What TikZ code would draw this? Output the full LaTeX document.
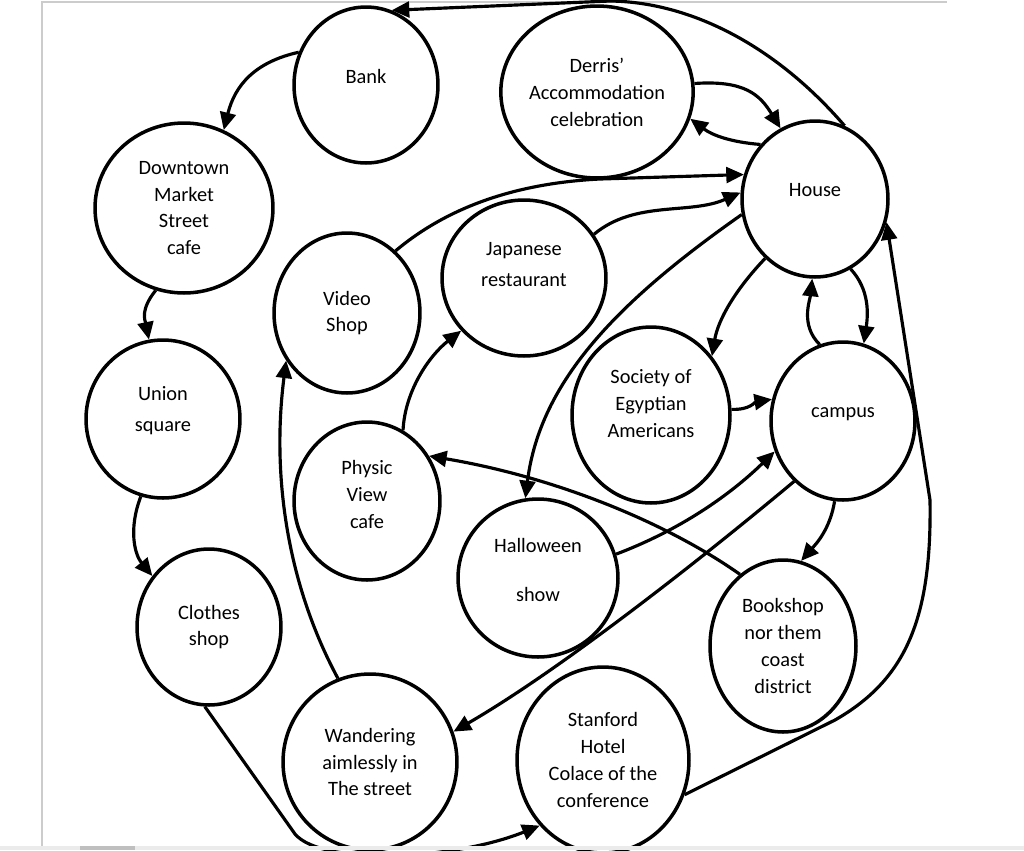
\documentclass[tikz,border=0pt]{standalone}
\usepackage{fontspec}
\setmainfont{Carlito}
\usetikzlibrary{shapes.geometric, arrows.meta}
\tikzstyle{place} = [ellipse, draw=black, line width=2pt, inner sep=0pt, align=center,
font=\fontsize{11.6}{15.3}\selectfont]
\tikzstyle{link} = [->, >=tri, line width=1.8pt]
\tikzset{tri/.tip={Triangle[length=10pt, width=9pt]}}

\begin{document}
\begin{tikzpicture}[x=0.02cm, y=-0.02cm]
    \useasboundingbox (0,0) rectangle (1024,850);
    % page frame
    \draw[black!20, line width=0.8pt] (42,846) -- (42,2) -- (947,2);

    \node(bank)[place, minimum width=2.88cm, minimum height=3.12cm] at (366,85) {Bank\\[-5pt]};
    \node(derris)[place, minimum width=3.84cm, minimum height=3.44cm] at (597,92) {Derris'\\Accommodation\\celebration};
    \node(downtown)[place, minimum width=3.56cm, minimum height=3.40cm] at (184,208) {Downtown\\Market\\Street\\cafe};
    \node(house)[place, minimum width=2.92cm, minimum height=3.12cm] at (815,199) {House\\[-5pt]};
    \node(video)[place, minimum width=2.92cm, minimum height=3.20cm] at (347,313) {Video\\Shop};
    \node(japanese)[place, minimum width=3.28cm, minimum height=3.12cm] at (524,278) {Japanese\\[2.3pt]restaurant\\[0pt]};
    \node(union)[place, minimum width=3.08cm, minimum height=3.16cm] at (163,419) {Union\\[2.3pt]square\\[-4pt]};
    \node(society)[place, minimum width=3.16cm, minimum height=3.52cm] at (651,415) {Society of\\Egyptian\\Americans\\[-2.4pt]};
    \node(campus)[place, minimum width=2.88cm, minimum height=3.16cm] at (843,421) {campus\\[-5.5pt]};
    \node(physic)[place, minimum width=2.92cm, minimum height=3.16cm] at (367,501) {Physic\\View\\cafe\\[-8pt]};
    \node(halloween)[place, minimum width=3.20cm, minimum height=3.16cm] at (538,578) {Halloween\\[12.5pt]show\\[-6pt]};
    \node(bookshop)[place, minimum width=2.92cm, minimum height=3.44cm] at (783,646) {Bookshop\\nor them\\coast\\district};
    \node(clothes)[place, minimum width=2.88cm, minimum height=3.12cm] at (209,627) {Clothes\\shop};
    \node(wandering)[place, minimum width=3.48cm, minimum height=3.52cm] at (370,762) {Wandering\\aimlessly in\\The street};
    \node(stanford)[place, minimum width=3.44cm, minimum height=3.72cm] at (603,760) {Stanford\\Hotel\\Colace of the\\conference};

    \draw[link] (house.68) .. controls (775,45) and (690,2) .. (610,1) -- (bank.71);
    \draw[link] (bank.154) .. controls (255,62) and (235,85) .. (downtown.63);
    \draw[link] (downtown.251) .. controls (140,310) and (145,320) .. (union.100);
    \draw[link] (union.254) .. controls (128,530) and (135,555) .. (clothes.138);
    \draw[link] (clothes.267) -- (295,834) .. controls (322,866) and (455,860) .. (stanford.226);
    \draw[link] (stanford.337) -- (835,720) .. controls (905,680) and (932,620) .. (930,500) -- (house.342);
    \draw[link] (derris.5) .. controls (745,80) and (760,95) .. (house.116);
    \draw[link] (house.135) .. controls (730,142) and (712,135) .. (derris.344);
    \draw[link] (video.52) .. controls (450,205) and (520,183) .. (600,179) -- (house.161);
    \draw[link] (japanese.32) .. controls (635,200) and (690,215) .. (house.175);
    \draw[link] (house.192) .. controls (620,300) and (540,380) .. (halloween.99);
    \draw[link] (house.230) .. controls (735,290) and (718,320) .. (society.44);
    \draw[link] (campus.107) .. controls (800,325) and (810,300) .. (house.268);
    \draw[link] (house.297) .. controls (870,290) and (868,315) .. (campus.75);
    \draw[link] (society.4) .. controls (750,410) and (755,402) .. (campus.163);
    \draw[link] (halloween.17) .. controls (680,530) and (730,495) .. (campus.204);
    \draw[link] (campus.231) .. controls (700,560) and (560,670) .. (wandering.20);
    \draw[link] (campus.264) .. controls (830,530) and (815,545) .. (bookshop.78);
    \draw[link] (bookshop.121) .. controls (670,525) and (560,478) .. (physic.36);
    \draw[link] (physic.63) .. controls (405,390) and (430,355) .. (japanese.220);
    \draw[link] (wandering.111) .. controls (285,580) and (272,470) .. (video.218);

    % grey strip along the bottom
    \fill[black!8] (0,846) rectangle (1024,850);
    \fill[black!25] (80,846) rectangle (135,850);
\end{tikzpicture}
\end{document}
